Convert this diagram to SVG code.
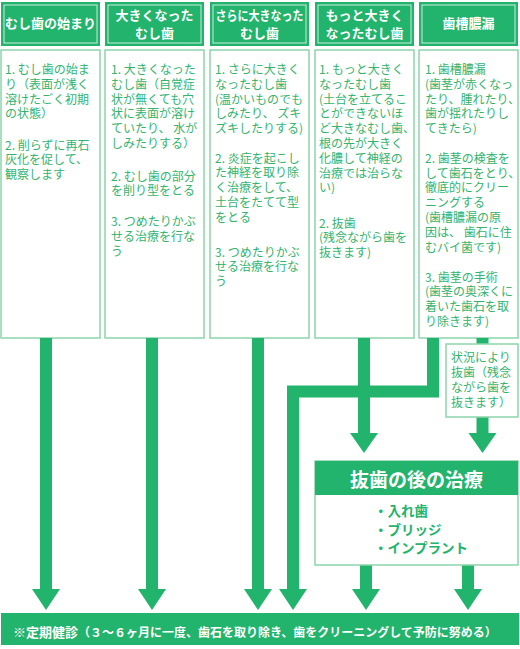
<svg xmlns="http://www.w3.org/2000/svg" width="520" height="649" viewBox="0 0 520 649">
<style>
.hd{fill:#22b36c}
.hin{fill:none;stroke:#c9eedb;stroke-width:1}
.ht{font-family:"Noto Sans CJK JP","Noto Sans",sans-serif;font-size:13px;font-weight:700;fill:#fff;text-anchor:middle}
.box{fill:#fff;stroke:#8dd5ac;stroke-width:1.5}
.t{font-family:"Noto Sans CJK JP","Noto Sans",sans-serif;font-size:12px;fill:#33b36e}
.stem{fill:none;stroke:#22b36c;stroke-width:12}
.ah{fill:#22b36c}
.it{font-family:"Noto Sans CJK JP","Noto Sans",sans-serif;font-size:13.5px;font-weight:700;fill:#22b36c}
</style>
<rect width="520" height="649" fill="#fff"/>

<g id="col1">
<rect class="hd" x="1" y="2" width="99" height="44"/>
<rect class="hin" x="4" y="5" width="93" height="38"/>
<text class="ht" x="50.5" y="28">むし歯の始まり</text>
<rect class="box" x="1" y="50" width="99" height="288"/>
<text class="t" x="5"><tspan x="5" y="74">1. むし歯の始ま</tspan><tspan x="5" y="88.8">り（表面が浅く</tspan><tspan x="5" y="103.6">溶けたごく初期</tspan><tspan x="5" y="118.4">の状態）</tspan><tspan x="5" y="149.5">2. 削らずに再石</tspan><tspan x="5" y="164.3">灰化を促して、</tspan><tspan x="5" y="179.1">観察します</tspan></text>
</g>

<g id="col2">
<rect class="hd" x="105" y="2" width="99" height="44"/>
<rect class="hin" x="108" y="5" width="93" height="38"/>
<text class="ht" x="154.5" y="20">大きくなった</text>
<text class="ht" x="154.5" y="38">むし歯</text>
<rect class="box" x="105" y="50" width="99" height="288"/>
<text class="t"><tspan x="111" y="74">1. 大きくなった</tspan><tspan x="111" y="88.8">むし歯（自覚症</tspan><tspan x="111" y="103.6">状が無くても穴</tspan><tspan x="111" y="118.4">状に表面が溶け</tspan><tspan x="111" y="133.2">ていたり、 水が</tspan><tspan x="111" y="148">しみたりする）</tspan><tspan x="111" y="180.5">2. むし歯の部分</tspan><tspan x="111" y="195.3">を削り型をとる</tspan><tspan x="111" y="226">3. つめたりかぶ</tspan><tspan x="111" y="240.8">せる治療を行な</tspan><tspan x="111" y="255.6">う</tspan></text>
</g>

<g id="col3">
<rect class="hd" x="210" y="2" width="99" height="44"/>
<rect class="hin" x="213" y="5" width="93" height="38"/>
<text class="ht" x="259.5" y="20" font-size="12" textLength="88" lengthAdjust="spacingAndGlyphs">さらに大きなった</text>
<text class="ht" x="259.5" y="38">むし歯</text>
<rect class="box" x="210" y="50" width="99" height="288"/>
<text class="t"><tspan x="215" y="74">1. さらに大きく</tspan><tspan x="215" y="88.8">なったむし歯</tspan><tspan x="215" y="103.6">(温かいものでも</tspan><tspan x="215" y="118.4">しみたり、 ズキ</tspan><tspan x="215" y="133.2">ズキしたりする)</tspan><tspan x="215" y="162.5">2. 炎症を起こし</tspan><tspan x="215" y="177.3">た神経を取り除</tspan><tspan x="215" y="192.1">く治療をして、</tspan><tspan x="215" y="206.9">土台をたてて型</tspan><tspan x="215" y="221.7">をとる</tspan><tspan x="215" y="256.5">3. つめたりかぶ</tspan><tspan x="215" y="271.3">せる治療を行な</tspan><tspan x="215" y="286.1">う</tspan></text>
</g>

<g id="col4">
<rect class="hd" x="315" y="2" width="99" height="44"/>
<rect class="hin" x="318" y="5" width="93" height="38"/>
<text class="ht" x="364.5" y="20">もっと大きく</text>
<text class="ht" x="364.5" y="38">なったむし歯</text>
<rect class="box" x="315" y="50" width="99" height="288"/>
<text class="t"><tspan x="319" y="74">1. もっと大きく</tspan><tspan x="319" y="88.8">なったむし歯</tspan><tspan x="319" y="103.6">(土台を立てるこ</tspan><tspan x="319" y="118.4">とができないほ</tspan><tspan x="319" y="133.2">ど大きなむし歯、</tspan><tspan x="319" y="148">根の先が大きく</tspan><tspan x="319" y="162.8">化膿して神経の</tspan><tspan x="319" y="177.6">治療では治らな</tspan><tspan x="319" y="192.4">い)</tspan><tspan x="319" y="227.5">2. 抜歯</tspan><tspan x="319" y="242.3">(残念ながら歯を</tspan><tspan x="319" y="257.1">抜きます)</tspan></text>
</g>

<g id="col5">
<rect class="hd" x="419" y="2" width="99" height="44"/>
<rect class="hin" x="422" y="5" width="93" height="38"/>
<text class="ht" x="468.5" y="28">歯槽膿漏</text>
<rect class="box" x="419" y="50" width="99" height="288"/>
<text class="t"><tspan x="425" y="74">1. 歯槽膿漏</tspan><tspan x="425" y="88.8">(歯茎が赤くなっ</tspan><tspan x="425" y="103.6">たり、腫れたり、</tspan><tspan x="425" y="118.4">歯が揺れたりし</tspan><tspan x="425" y="133.2">てきたら)</tspan><tspan x="425" y="162.8">2. 歯茎の検査を</tspan><tspan x="425" y="177.6">して歯石をとり、</tspan><tspan x="425" y="192.4">徹底的にクリー</tspan><tspan x="425" y="207.2">ニングする</tspan><tspan x="425" y="222">(歯槽膿漏の原</tspan><tspan x="425" y="236.8">因は、 歯石に住</tspan><tspan x="425" y="251.6">むバイ菌です)</tspan><tspan x="425" y="281.5">3. 歯茎の手術</tspan><tspan x="425" y="296.3">(歯茎の奥深くに</tspan><tspan x="425" y="311.1">着いた歯石を取</tspan><tspan x="425" y="325.9">り除きます)</tspan></text>
</g>

<g id="connectors">
<line class="stem" x1="46" y1="338" x2="46" y2="590"/>
<polygon class="ah" points="32,589 60,589 46,610"/>
<line class="stem" x1="152" y1="338" x2="152" y2="590"/>
<polygon class="ah" points="138,589 166,589 152,610"/>
<line class="stem" x1="258" y1="338" x2="258" y2="590"/>
<polygon class="ah" points="244,589 272,589 258,610"/>
<polyline class="stem" points="433,338 433,391.5 293,391.5 293,590" stroke-linejoin="miter"/>
<polygon class="ah" points="279,589 307,589 293,610"/>
<line class="stem" x1="364" y1="338" x2="364" y2="434"/>
<polygon class="ah" points="350,433 378,433 364,453"/>
<line class="stem" x1="482.5" y1="338" x2="482.5" y2="345"/>
<line class="stem" x1="482.5" y1="416" x2="482.5" y2="434"/>
<polygon class="ah" points="468.5,433 496.5,433 482.5,453"/>
<line class="stem" x1="366" y1="564" x2="366" y2="590"/>
<polygon class="ah" points="352,589 380,589 366,610"/>
<line class="stem" x1="468" y1="564" x2="468" y2="590"/>
<polygon class="ah" points="454,589 482,589 468,610"/>
</g>

<g id="extraction-note">
<rect class="box" x="446" y="344" width="72" height="73"/>
<text class="t"><tspan x="451" y="361.5">状況により</tspan><tspan x="451" y="376.5">抜歯（残念</tspan><tspan x="451" y="391.5">ながら歯を</tspan><tspan x="451" y="406.5">抜きます）</tspan></text>
</g>

<g id="after-extraction">
<rect class="box" x="315" y="461" width="203" height="104"/>
<rect class="hd" x="315" y="461" width="203" height="34"/>
<text x="416.5" y="487" font-family="Noto Sans CJK JP, Noto Sans, sans-serif" font-size="19" font-weight="700" fill="#fff" text-anchor="middle">抜歯の後の治療</text>
<text class="it"><tspan x="374" y="516">・入れ歯</tspan><tspan x="374" y="534.5">・ブリッジ</tspan><tspan x="374" y="553">・インプラント</tspan></text>
</g>

<g id="checkup">
<rect class="hd" x="1" y="613" width="518" height="32"/>
<text x="13" y="636.5" font-family="Noto Sans CJK JP, Noto Sans, sans-serif" font-weight="700" fill="#fff"><tspan font-size="13">※定期健診</tspan><tspan font-size="12">（３～６ヶ月に一度、歯石を取り除き、歯をクリーニングして予防に努める）</tspan></text>
</g>
</svg>
